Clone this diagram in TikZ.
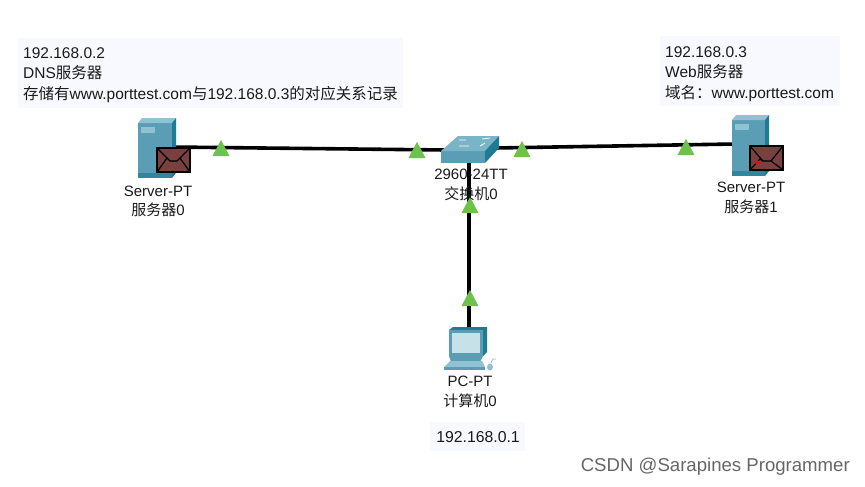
\documentclass[tikz,border=0pt]{standalone}
\usepackage{fontspec}
\setmainfont{Liberation Sans}
\newfontfamily\cjk{Noto Sans CJK SC}
\newcommand{\zh}[1]{{\cjk #1}}
\definecolor{panel}{HTML}{F8F9FF}
\definecolor{srvfront}{HTML}{5B9DB5}
\definecolor{srvtop}{HTML}{8FC3D3}
\definecolor{srvside}{HTML}{1F7A93}
\definecolor{env}{HTML}{7A3F3F}
\definecolor{tri}{HTML}{6CC24A}
\definecolor{txt}{HTML}{1A1A1A}
\tikzset{
  panelbox/.style={fill=panel,draw=none},
  note/.style={anchor=north west,align=left,inner sep=0pt,text=txt,font=\fontsize{15.5}{20.5}\selectfont},
  devlabel/.style={align=center,inner sep=0pt,text=txt,font=\fontsize{15}{19.5}\selectfont},
  linkline/.style={line width=3.6pt,black},
  status/.style={fill=tri,draw=none},
  envbox/.style={fill=env,draw=black,line width=1.3pt},
}
\begin{document}
\begin{tikzpicture}[x=1pt,y=-1pt]
\useasboundingbox (0,0) rectangle (865,487);
\fill[white] (0,0) rectangle (865,487);
% panels
\fill[panelbox] (18,38) rectangle (403,108);
\fill[panelbox] (660,36) rectangle (840,106);
\fill[panelbox] (430,422) rectangle (525,451);
\node[note] (n1) at (23,47) {192.168.0.2\\DNS\zh{服务器}\\\zh{存储有}www.porttest.com\zh{与}192.168.0.3\zh{的对应关系记录}};
\node[note] (n2) at (665,46) {192.168.0.3\\Web\zh{服务器}\\\zh{域名：}www.porttest.com};
\node[devlabel,font=\fontsize{15.8}{19}\selectfont] (n3) at (478,437) {192.168.0.1};
% anchors
\coordinate (srv0) at (170,147);
\coordinate (srv1) at (735,144);
\coordinate (swl) at (445,150);
\coordinate (swr) at (495,148);
\coordinate (swb) at (469,160);
\coordinate (pc) at (469,332);
\draw[linkline] (srv0) -- (swl);
\draw[linkline] (swr) -- (srv1);
\draw[linkline] (swb) -- (pc);
% server 0
\begin{scope}[shift={(138,118)}]
\fill[srvfront] (0,5) rectangle (34,60);
\fill[srvtop] (0,5) -- (4,0) -- (38,0) -- (34,5) -- cycle;
\fill[srvside] (34,5) -- (38,0) -- (38,55) -- (34,60) -- cycle;
\fill[srvtop] (3,9) rectangle (17,15);
\fill[srvside!70!srvfront] (0,55) rectangle (34,60);
\end{scope}
\draw[envbox] (157,148) rectangle (190,172);
\draw[black,line width=1.2pt] (157,148) -- (170,161) -- (177,161) -- (190,148);
\draw[black,line width=1.2pt] (157,172) -- (167,158) (190,172) -- (180,158);
% server 1
\begin{scope}[shift={(732,115)}]
\fill[srvfront] (0,5) rectangle (33,61);
\fill[srvtop] (0,5) -- (4,0) -- (37,0) -- (33,5) -- cycle;
\fill[srvside] (33,5) -- (37,0) -- (37,56) -- (33,61) -- cycle;
\fill[srvtop] (3,9) rectangle (17,15);
\fill[srvside!70!srvfront] (0,56) rectangle (33,61);
\end{scope}
\draw[envbox] (750,146) rectangle (783,170);
\draw[black,line width=1.2pt] (750,170) -- (760,159) -- (763,161) -- (771,161) -- (783,170);
\draw[black,line width=1.2pt] (750,146) -- (763,161) (783,146) -- (771,161);
\fill[red] (755,163) -- (758,160.5) -- (760,162.5) -- (757,165) -- cycle;
% switch
\fill[srvfront] (441,151) rectangle (485,163);
\fill[srvtop!60!srvfront] (441,151) -- (458,136) -- (499,136) -- (485,151) -- cycle;
\fill[srvside] (485,151) -- (499,136) -- (499,148) -- (485,163) -- cycle;
\draw[white,line width=.8pt] (459,140) -- (466,140) (482,139) -- (490,138) (459,146) -- (469,146) (480,146) -- (485,143);
% pc
\fill[srvside] (449,330) -- (453,327) -- (487,327) -- (487,352) -- (483,356) -- (449,356) -- cycle;
\fill[srvfront] (449,330) rectangle (483,356);
\fill[srvtop!50!white] (452,333) rectangle (480,353);
\fill[srvfront] (449,356) -- (483,356) -- (480,362) -- (451,362) -- cycle;
\fill[srvtop] (444,367) -- (450,361) -- (482,361) -- (485,367) -- cycle;
\fill[srvfront] (444,367) rectangle (485,370);
\fill[srvtop] (490,367) ellipse (3pt and 3.5pt);
\draw[srvtop,line width=.8pt] (491,363) .. controls (492,359) and (494,358) .. (496,359);
% status triangles
\foreach \x/\y in {221/148, 417/150, 522/149, 686/147, 470/205, 470/298}
  \fill[status] (\x-8.5,\y+8) -- (\x,\y-8) -- (\x+8.5,\y+8) -- cycle;
% device labels
\node[devlabel] (l0) at (158,201.5) {Server-PT\\\zh{服务器}0};
\node[devlabel] (l1) at (751,198) {Server-PT\\\zh{服务器}1};
\node[devlabel] (l2) at (471,185) {2960-24TT\\\zh{交换机}0};
\node[devlabel] (l3) at (470,392) {PC-PT\\\zh{计算机}0};
\node[anchor=east,inner sep=0pt,text=black!60,font=\fontsize{18.6}{20}\selectfont] (wm) at (850,467) {CSDN @Sarapines Programmer};
\end{tikzpicture}
\end{document}
